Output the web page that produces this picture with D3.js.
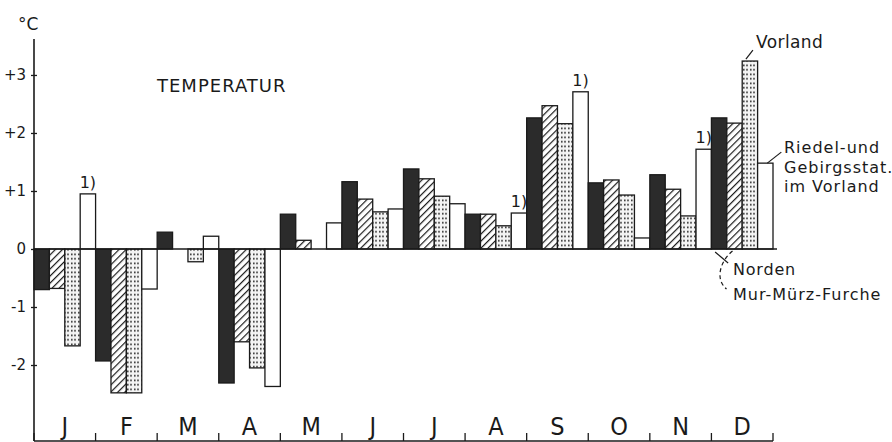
<!DOCTYPE html>
<html>
<head>
<meta charset="utf-8">
<script src="https://cdn.jsdelivr.net/npm/d3@7"></script>
<style>
  body { margin: 0; background: #fff; }
  text { font-family: "DejaVu Sans", sans-serif; fill: #1a1a1a; }
</style>
</head>
<body>
<div class="chart"></div>
<script>

var months = ["J", "F", "M", "A", "M", "J", "J", "A", "S", "O", "N", "D"];

var series = ["Norden", "Mur-Mürz-Furche", "Vorland", "Riedel"];

// Abweichung in °C
var norden   = [-0.70, -1.93, 0.29, -2.31, 0.60, 1.16, 1.38, 0.60, 2.26, 1.14, 1.28, 2.26];
var murMurz  = [-0.68, -2.48, 0.00, -1.60, 0.15, 0.86, 1.21, 0.60, 2.47, 1.19, 1.03, 2.17];
var vorland  = [-1.67, -2.48, -0.22, -2.05, 0.00, 0.64, 0.91, 0.40, 2.16, 0.93, 0.57, 3.24];
var riedel   = [0.95, -0.69, 0.22, -2.37, 0.45, 0.69, 0.78, 0.62, 2.71, 0.19, 1.72, 1.48];

// Monate mit Fußnote 1) über dem weißen Balken
var footnoteMonths = [0, 7, 8, 10];

var yTicks = [3, 2, 1, 0, -1, -2];
var yTickLabels = ["+3", "+2", "+1", "0", "-1", "-2"];

var width = 892, height = 442;

var svg = d3.select(".chart")
    .append("svg")
    .attr("width", width)
    .attr("height", height);

var defs = svg.append("defs");

defs.append("pattern")
    .attr("id", "hatch")
    .attr("patternUnits", "userSpaceOnUse")
    .attr("width", 5)
    .attr("height", 5)
    .attr("patternTransform", "rotate(45)")
    .append("rect")
    .attr("width", 5).attr("height", 5).attr("fill", "#fff");
defs.select("#hatch").append("line")
    .attr("x1", 0).attr("y1", 0).attr("x2", 0).attr("y2", 5)
    .attr("stroke", "#1a1a1a").attr("stroke-width", 2.4);

var dots = defs.append("pattern")
    .attr("id", "dots")
    .attr("patternUnits", "userSpaceOnUse")
    .attr("width", 7)
    .attr("height", 4.5);
dots.append("rect").attr("width", 7).attr("height", 4.5).attr("fill", "#f4f4f4");
dots.append("rect").attr("x", 1).attr("y", 1.5).attr("width", 1.6).attr("height", 1.6).attr("fill", "#222");
dots.append("rect").attr("x", 4.2).attr("y", 1.5).attr("width", 1.6).attr("height", 1.6).attr("fill", "#222");

var fills = ["#2b2b2b", "url(#hatch)", "url(#dots)", "#fff"];

var xScale = d3.scaleBand()
    .domain(d3.range(months.length))
    .range([34, 773])
    .padding(0);

var xInner = d3.scaleBand()
    .domain(d3.range(series.length))
    .range([0, xScale.bandwidth()])
    .padding(0);

var yScale = d3.scaleLinear()
    .domain([-3.31, 3.62])
    .range([441, 39]);

var data = [];
months.forEach(function(m, i) {
    [norden, murMurz, vorland, riedel].forEach(function(s, j) {
        data.push({month: i, series: j, value: s[i]});
    });
});

function barX(d) { return xScale(d.month) + xInner(d.series); }

// Balken
svg.append("g")
    .selectAll("rect")
    .data(data.filter(function(d) { return d.value !== 0; }))
    .enter().append("rect")
    .attr("x", barX)
    .attr("y", function(d) { return yScale(Math.max(0, d.value)); })
    .attr("width", xInner.bandwidth())
    .attr("height", function(d) { return Math.abs(yScale(d.value) - yScale(0)); })
    .attr("fill", function(d) { return fills[d.series]; })
    .attr("stroke", "#1a1a1a")
    .attr("stroke-width", 1.3);

// Nulllinie
svg.append("line")
    .attr("x1", 34).attr("x2", 777)
    .attr("y1", yScale(0)).attr("y2", yScale(0))
    .attr("stroke", "#1a1a1a").attr("stroke-width", 1.5);

// y-Achse
var yAxis = d3.axisLeft(yScale)
    .tickValues(yTicks)
    .tickSize(3)
    .tickPadding(5)
    .tickFormat(function(d, i) { return yTickLabels[i]; });

var yg = svg.append("g")
    .attr("transform", "translate(34,0)")
    .call(yAxis);
yg.select(".domain").remove();
yg.selectAll(".tick line").attr("x2", 3).attr("x1", -3).attr("stroke", "#1a1a1a").attr("stroke-width", 1.3);
yg.selectAll(".tick text")
    .style("font-size", "15px")
    .style("font-family", "DejaVu Sans, sans-serif")
    .attr("fill", "#1a1a1a");

svg.append("line")
    .attr("x1", 34).attr("x2", 34)
    .attr("y1", 39).attr("y2", 441)
    .attr("stroke", "#1a1a1a").attr("stroke-width", 1.6);

svg.append("text")
    .attr("x", 18).attr("y", 30)
    .style("font-size", "17px")
    .text("°C");

// x-Achse (Monate)
svg.append("line")
    .attr("x1", 34).attr("x2", 773)
    .attr("y1", 441).attr("y2", 441)
    .attr("stroke", "#1a1a1a").attr("stroke-width", 1.5);

svg.append("g")
    .selectAll("line")
    .data(d3.range(months.length + 1))
    .enter().append("line")
    .attr("x1", function(i) { return i < months.length ? xScale(i) : xScale.range()[1]; })
    .attr("x2", function(i) { return i < months.length ? xScale(i) : xScale.range()[1]; })
    .attr("y1", 433).attr("y2", 441)
    .attr("stroke", "#1a1a1a").attr("stroke-width", 1.3);

svg.append("g")
    .selectAll("text")
    .data(months)
    .enter().append("text")
    .attr("x", function(d, i) { return xScale(i) + xScale.bandwidth() / 2; })
    .attr("y", 435)
    .attr("text-anchor", "middle")
    .style("font-size", "25px")
    .style("font-family", "DejaVu Sans Condensed, DejaVu Sans, sans-serif")
    .text(function(d) { return d; });

svg.append("text")
    .attr("x", 157).attr("y", 92)
    .style("font-size", "18px")
    .style("letter-spacing", "1px")
    .text("TEMPERATUR");

// Fußnoten 1)
svg.append("g")
    .selectAll("text")
    .data(footnoteMonths)
    .enter().append("text")
    .attr("x", function(i) { return xScale(i) + xInner(3) + xInner.bandwidth() / 2; })
    .attr("y", function(i) { return yScale(riedel[i]) - 6; })
    .attr("text-anchor", "middle")
    .style("font-size", "16px")
    .text("1)");

// Beschriftung der Reihen (Dezember)
var dec = 11;
var vx = xScale(dec) + xInner(2) + xInner.bandwidth() / 2;
var vy = yScale(vorland[dec]);
svg.append("line")
    .attr("x1", vx - 4).attr("y1", vy - 2)
    .attr("x2", vx + 3).attr("y2", vy - 11)
    .attr("stroke", "#1a1a1a").attr("stroke-width", 1.2);
svg.append("text")
    .attr("x", 756).attr("y", 48)
    .style("font-size", "17px")
    .style("letter-spacing", "0.4px")
    .text("Vorland");

var rx = xScale(dec) + xInner(3) + xInner.bandwidth() / 2;
var ry = yScale(riedel[dec]);
svg.append("line")
    .attr("x1", rx + 2).attr("y1", ry)
    .attr("x2", rx + 16).attr("y2", ry - 11)
    .attr("stroke", "#1a1a1a").attr("stroke-width", 1.2);
svg.append("g")
    .selectAll("text")
    .data(["Riedel-und", "Gebirgsstat.", "im Vorland"])
    .enter().append("text")
    .attr("x", 784)
    .attr("y", function(d, i) { return 153 + i * 19.5; })
    .style("font-size", "16px")
    .style("letter-spacing", "1px")
    .text(function(d) { return d; });

var nx = xScale(dec) + xInner(0) + xInner.bandwidth() / 2;
var y0 = yScale(0);
svg.append("line")
    .attr("x1", nx - 4).attr("y1", y0 + 3)
    .attr("x2", nx + 9).attr("y2", y0 + 14)
    .attr("stroke", "#1a1a1a").attr("stroke-width", 1.2);
var mx = xScale(dec) + xInner(1) + xInner.bandwidth() / 2;
svg.append("path")
    .attr("d", "M" + (mx - 2) + "," + (y0 + 2) +
        " C" + (mx - 14) + "," + (y0 + 12) + " " + (mx - 20) + "," + (y0 + 30) + " " + (mx - 8) + "," + (y0 + 40))
    .attr("fill", "none")
    .attr("stroke", "#1a1a1a")
    .attr("stroke-width", 1.2)
    .attr("stroke-dasharray", "4,3");
svg.append("text")
    .attr("x", 733).attr("y", 275)
    .style("font-size", "16px")
    .style("letter-spacing", "0.8px")
    .text("Norden");
svg.append("text")
    .attr("x", 733).attr("y", 300)
    .style("font-size", "16px")
    .style("letter-spacing", "1px")
    .text("Mur-Mürz-Furche");

</script>
</body>
</html>
